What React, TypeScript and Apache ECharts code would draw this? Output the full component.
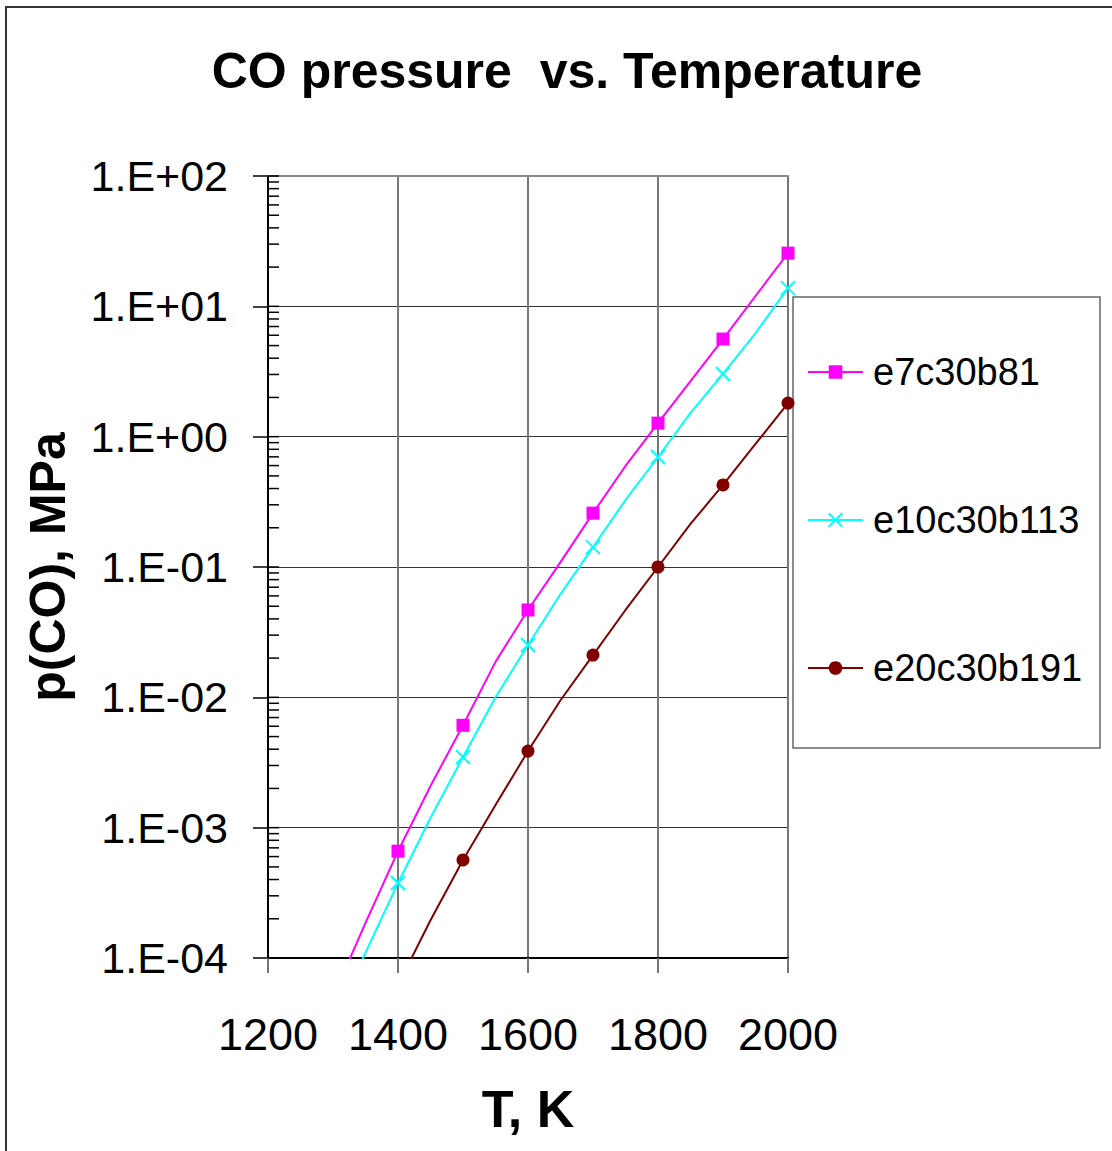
import React, { useEffect, useRef } from "react";
import * as echarts from "echarts";

const temps = [1300, 1350, 1400, 1450, 1500, 1550, 1600, 1650, 1700, 1750, 1800, 1850, 1900, 1950, 2000];
const e7c30b81 = [5.0e-5, 1.86e-4, 6.6e-4, 2.09e-3, 6.1e-3, 1.87e-2, 4.68e-2, 0.109, 0.259, 0.596, 1.27, 2.67, 5.61, 12.0, 25.6];
const e10c30b113 = [3.0e-5, 1.1e-4, 3.76e-4, 1.19e-3, 3.48e-3, 1.0e-2, 2.52e-2, 0.062, 0.142, 0.327, 0.698, 1.52, 3.03, 6.24, 13.8];
const e20c30b191 = [null, null, 6.2e-5, 1.95e-4, 5.65e-4, 1.49e-3, 3.87e-3, 9.5e-3, 0.0211, 0.0468, 0.1, 0.214, 0.426, 0.879, 1.81];
const seriesNames = ["e7c30b81", "e10c30b113", "e20c30b191"];
const decades = [-4, -3, -2, -1, 0, 1];
const minorMultipliers = [1, 2, 3, 4, 5, 6, 7, 8, 9];

const FONT = "'Liberation Sans', Arial, sans-serif";
const CROSS = "path://M0,0L10,10M10,0L0,10";

function fmtLog(v: number) {
  const e = Math.round(Math.log10(v));
  return "1.E" + (e < 0 ? "-" : "+") + String(Math.abs(e)).padStart(2, "0");
}

function markerData(vals: (number | null)[]) {
  return temps.map((t, i) => {
    const show = t % 100 === 0 && t >= 1400;
    return show ? { value: [t, vals[i]] } : { value: [t, vals[i]], symbol: "none", symbolSize: 0 };
  });
}

export default function App() {
  const ref = useRef<HTMLDivElement>(null);
  useEffect(() => {
    document.body.style.margin = "0";
    const chart = echarts.init(ref.current!, undefined, { renderer: "svg" });
    const tickVals: number[][] = [];
    decades.forEach((d) => minorMultipliers.forEach((m) => tickVals.push([1200, m * Math.pow(10, d)])));
    tickVals.push([1200, 100]);

    chart.setOption({
      animation: false,
      backgroundColor: "#fff",
      title: {
        text: "CO pressure  vs. Temperature",
        left: 562,
        top: 41,
        textAlign: "center",
        textStyle: { fontFamily: FONT, fontSize: 50, fontWeight: "bold", color: "#000" },
      },
      graphic: [
        {
          type: "rect",
          shape: { x: 6, y: 7, width: 1300, height: 1300 },
          style: { fill: "none", stroke: "#333", lineWidth: 2 },
          silent: true,
        },
        {
          type: "rect",
          z: 0,
          shape: { x: 793, y: 297, width: 307, height: 451 },
          style: { fill: "#fff", stroke: "#666", lineWidth: 1.5 },
          silent: true,
        },
      ],
      grid: { left: 268, top: 176, width: 520, height: 782, containLabel: false },
      xAxis: [
        {
          type: "value",
          min: 1200,
          max: 2000,
          interval: 200,
          name: "T, K",
          nameLocation: "middle",
          nameGap: 125,
          nameTextStyle: { fontFamily: FONT, fontSize: 52, fontWeight: "bold", color: "#000" },
          axisLine: { lineStyle: { color: "#000", width: 2 } },
          axisTick: { show: true, inside: false, length: 15, lineStyle: { color: "#777", width: 2 } },
          axisLabel: { margin: 54, fontFamily: FONT, fontSize: 45, color: "#000", formatter: (v: number) => String(v) },
          splitLine: { show: true, lineStyle: { color: "#777", width: 2 } },
        },
        {
          type: "value",
          position: "top",
          min: 1200,
          max: 2000,
          axisLine: { show: true, lineStyle: { color: "#888", width: 2 } },
          axisTick: { show: false },
          axisLabel: { show: false },
          splitLine: { show: false },
        },
      ],
      yAxis: {
        type: "log",
        logBase: 10,
        min: 1e-4,
        max: 100,
        splitNumber: 6,
        name: "p(CO), MPa",
        nameLocation: "middle",
        nameGap: 195,
        nameTextStyle: { fontFamily: FONT, fontSize: 50, fontWeight: "bold", color: "#000" },
        axisLine: { show: true, lineStyle: { color: "#000", width: 2 } },
        axisTick: { show: true, inside: false, length: 15, lineStyle: { color: "#000", width: 1.5 } },
        axisLabel: { margin: 40, fontFamily: FONT, fontSize: 43, color: "#000", formatter: fmtLog },
        splitLine: { show: true, lineStyle: { color: "#333", width: 1 } },
        minorTick: { show: false },
      },
      legend: {
        orient: "vertical",
        left: 807,
        top: 352,
        padding: 0,
        itemWidth: 55,
        itemHeight: 17,
        itemGap: 108,
        data: seriesNames,
        textStyle: { fontFamily: FONT, fontSize: 38, lineHeight: 40, color: "#000", padding: [0, 0, 0, 5] },
      },
      series: [
        {
          name: seriesNames[0],
          type: "line",
          symbol: "rect",
          symbolSize: 13,
          data: markerData(e7c30b81),
          lineStyle: { color: "#FF00FF", width: 2 },
          itemStyle: { color: "#FF00FF", borderWidth: 0 },
          z: 3,
        },
        {
          name: seriesNames[1],
          type: "line",
          symbol: CROSS,
          symbolSize: 14,
          data: markerData(e10c30b113),
          lineStyle: { color: "#00FFFF", width: 2 },
          itemStyle: { color: "#00FFFF", borderColor: "#00FFFF", borderWidth: 2 },
          z: 3,
        },
        {
          name: seriesNames[2],
          type: "line",
          symbol: "circle",
          symbolSize: 13,
          data: markerData(e20c30b191),
          lineStyle: { color: "#800000", width: 2 },
          itemStyle: { color: "#800000", borderWidth: 0 },
          z: 3,
        },
        {
          name: "minorTicks",
          type: "custom",
          silent: true,
          clip: false,
          data: tickVals,
          renderItem: (params: any, api: any) => {
            const p = api.coord([api.value(0), api.value(1)]);
            return {
              type: "line",
              shape: { x1: p[0], y1: p[1], x2: p[0] + 11, y2: p[1] },
              style: { stroke: "#000", lineWidth: 1.5 },
            };
          },
          z: 4,
        },
      ],
    });
    return () => chart.dispose();
  }, []);
  return <div ref={ref} style={{ width: 1112, height: 1151 }} />;
}
